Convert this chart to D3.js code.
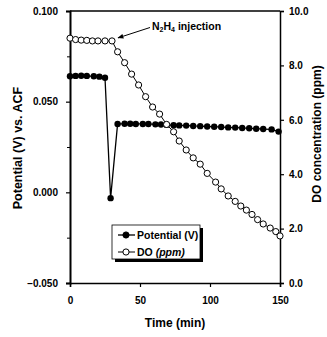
<!DOCTYPE html>
<html>
<head>
<meta charset="utf-8">
<script src="https://d3js.org/d3.v7.min.js"></script>
<style>
  body { margin: 0; background: #fff; }
  svg text { font-family: "Liberation Sans", Arial, sans-serif; font-weight: bold; fill: #000; }
</style>
</head>
<body>
<div id="container"></div>
<script>
// time (min) and dissolved oxygen (ppm)
const doTime = [0, 4, 8, 12, 16, 20, 25, 30, 34, 39, 44, 49, 54, 59, 64, 69, 74, 78, 83, 88, 93, 98, 104, 108, 113, 118, 122, 126, 130, 134, 138, 143, 147, 150];
const doPpm  = [9.0, 8.95, 8.93, 8.92, 8.9, 8.9, 8.9, 8.9, 8.5, 8.1, 7.68, 7.28, 6.85, 6.47, 6.21, 5.83, 5.56, 5.22, 4.89, 4.6, 4.37, 4.03, 3.71, 3.46, 3.2, 3.0, 2.83, 2.68, 2.52, 2.33, 2.17, 2.02, 1.89, 1.73];

// time (min) and potential (V) vs. ACF
const potTime = [0, 4, 8, 12, 17, 21, 25, 29, 34, 39, 43, 47, 52, 56, 61, 65, 69, 74, 78, 83, 88, 93, 98, 103, 108, 113, 118, 123, 128, 133, 138, 144, 149];
const potVolt = [0.0640, 0.0642, 0.0643, 0.0642, 0.0640, 0.0638, 0.0632, -0.0032, 0.0377, 0.0378, 0.0378, 0.0377, 0.0377, 0.0377, 0.0375, 0.0374, 0.0372, 0.0370, 0.0369, 0.0368, 0.0366, 0.0365, 0.0363, 0.0362, 0.0360, 0.0358, 0.0357, 0.0355, 0.0353, 0.0351, 0.0349, 0.0347, 0.0335];

const xTicks = [0, 50, 100, 150];
const leftTicks = [-0.05, 0, 0.05, 0.1];
const leftMinor = [-0.025, 0.025, 0.075];
const rightTicks = [0, 2, 4, 6, 8, 10];

const WIDTH = 327, HEIGHT = 337;
const L = 70, R = 280, T = 11, B = 283;

const svg = d3.select("#container").append("svg")
  .attr("width", WIDTH).attr("height", HEIGHT);

const x = d3.scaleLinear().domain([0, 150]).range([L, R]);
const yL = d3.scaleLinear().domain([-0.05, 0.1]).range([B, T]);
const yR = d3.scaleLinear().domain([0, 10]).range([B, T]);

// frame
svg.append("line").attr("x1", L).attr("x2", R).attr("y1", T).attr("y2", T)
  .attr("stroke", "#000").attr("stroke-width", 1.5);

// axes
const gx = svg.append("g").attr("transform", `translate(0,${B})`)
  .call(d3.axisBottom(x).tickValues(xTicks).tickSize(4).tickPadding(10).tickFormat(d3.format("d")));
const gl = svg.append("g").attr("transform", `translate(${L},0)`)
  .call(d3.axisLeft(yL).tickValues(leftTicks).tickSize(4).tickPadding(8).tickFormat(d3.format(".3f")));
svg.append("g").attr("transform", `translate(${L},0)`)
  .call(d3.axisLeft(yL).tickValues(leftMinor).tickSize(3).tickFormat(""))
  .select(".domain").remove();
const gr = svg.append("g").attr("transform", `translate(${R},0)`)
  .call(d3.axisRight(yR).tickValues(rightTicks).tickSize(4).tickPadding(5).tickFormat(d3.format(".1f")));

[gx, gl, gr].forEach(g => {
  g.select(".domain").attr("stroke-width", 1.5);
  g.selectAll(".tick line").attr("stroke-width", 1.2);
  g.selectAll("text").style("font-size", "10px").style("font-family", "'Liberation Sans', Arial, sans-serif").style("font-weight", "bold");
});
gl.select(".domain").attr("stroke-width", 2);

// axis titles
svg.append("text").attr("x", 175).attr("y", 327).attr("text-anchor", "middle")
  .style("font-size", "12px").text("Time (min)");
svg.append("text").attr("transform", "translate(22,148) rotate(-90)").attr("text-anchor", "middle")
  .style("font-size", "12.5px").text("Potential (V) vs. ACF");
svg.append("text").attr("transform", "translate(321,134) rotate(-90)").attr("text-anchor", "middle")
  .style("font-size", "12px").text("DO concentration (ppm)");

// potential series
const potData = potTime.map((t, i) => ({ t, v: potVolt[i] }));
svg.append("path").datum(potData)
  .attr("fill", "none").attr("stroke", "#000").attr("stroke-width", 1.3)
  .attr("d", d3.line().x(d => x(d.t)).y(d => yL(d.v)));
svg.selectAll("circle.pot").data(potData).enter().append("circle")
  .attr("class", "pot").attr("cx", d => x(d.t)).attr("cy", d => yL(d.v))
  .attr("r", 3.2).attr("fill", "#000");

// DO series
const doData = doTime.map((t, i) => ({ t, v: doPpm[i] }));
svg.append("path").datum(doData)
  .attr("fill", "none").attr("stroke", "#000").attr("stroke-width", 1)
  .attr("d", d3.line().x(d => x(d.t)).y(d => yR(d.v)));
svg.selectAll("circle.do").data(doData).enter().append("circle")
  .attr("class", "do").attr("cx", d => x(d.t)).attr("cy", d => yR(d.v))
  .attr("r", 3.1).attr("fill", "#fff").attr("stroke", "#000").attr("stroke-width", 1);

// annotation
svg.append("defs").append("marker").attr("id", "arr")
  .attr("viewBox", "0 0 10 10").attr("refX", 9).attr("refY", 5)
  .attr("markerWidth", 6).attr("markerHeight", 6).attr("orient", "auto")
  .append("path").attr("d", "M0,1 L10,5 L0,9 Z").attr("fill", "#000");
svg.append("line")
  .attr("x1", 150).attr("y1", 27.5)
  .attr("x2", x(30) + 6).attr("y2", yR(8.9) - 3)
  .attr("stroke", "#000").attr("stroke-width", 1).attr("marker-end", "url(#arr)");
const ann = svg.append("text").attr("x", 152).attr("y", 29.5).style("font-size", "10.5px");
ann.append("tspan").text("N");
ann.append("tspan").text("2").style("font-size", "7px").attr("dy", 2);
ann.append("tspan").text("H").attr("dy", -2);
ann.append("tspan").text("4").style("font-size", "7px").attr("dy", 2);
ann.append("tspan").text(" injection").attr("dy", -2);

// legend
const lg = svg.append("g").attr("transform", "translate(112,225)");
lg.append("rect").attr("x", 3).attr("y", 3).attr("width", 88).attr("height", 34).attr("fill", "#000");
lg.append("rect").attr("x", 0).attr("y", 0).attr("width", 88).attr("height", 34)
  .attr("fill", "#fff").attr("stroke", "#000").attr("stroke-width", 0.8);
const items = [
  { name: "Potential", unit: " (V)", filled: true, y: 10 },
  { name: "DO ", unit: "(ppm)", filled: false, y: 27 }
];
items.forEach(it => {
  lg.append("line").attr("x1", 6).attr("x2", 23).attr("y1", it.y).attr("y2", it.y)
    .attr("stroke", "#000").attr("stroke-width", it.filled ? 1.3 : 1);
  lg.append("circle").attr("cx", 14).attr("cy", it.y).attr("r", 3.1)
    .attr("fill", it.filled ? "#000" : "#fff").attr("stroke", "#000");
  const t = lg.append("text").attr("x", 25).attr("y", it.y + 4).style("font-size", "10.5px");
  t.append("tspan").text(it.name);
  t.append("tspan").text(it.unit).style("font-style", it.filled ? "normal" : "italic");
});
</script>
</body>
</html>
